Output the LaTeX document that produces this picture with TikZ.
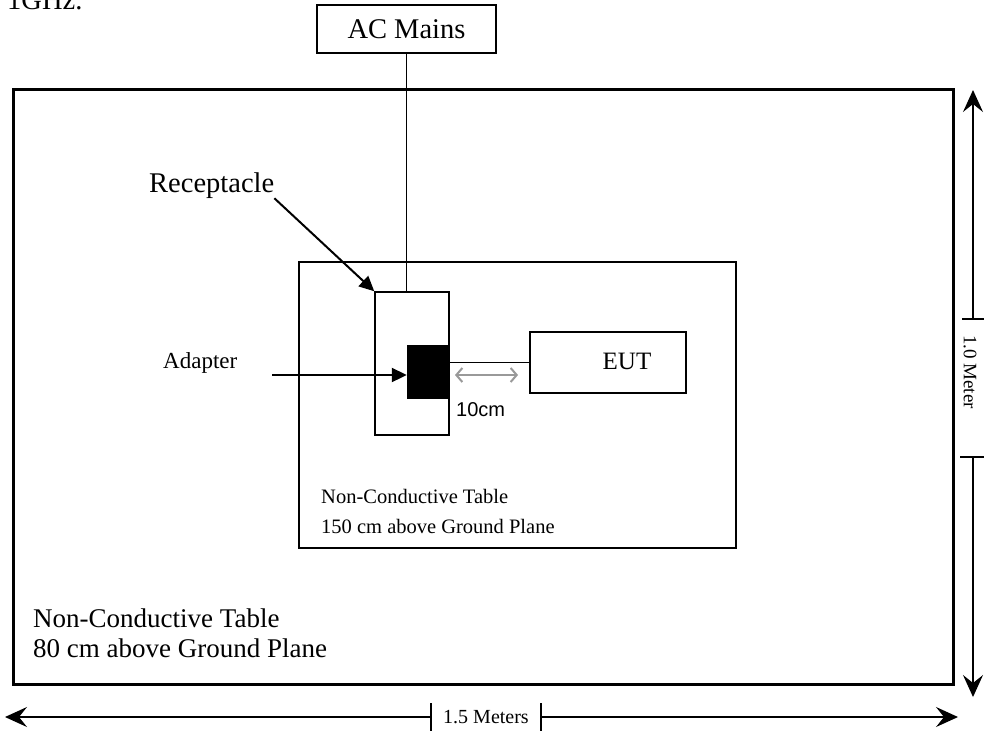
\documentclass[tikz,border=0pt]{standalone}
\usepackage{fontspec}
\setmainfont{Liberation Serif}
\newfontfamily\arialf{Liberation Sans}
\usetikzlibrary{arrows.meta}
\begin{document}
\begin{tikzpicture}[x=1pt,y=-1pt,
  box/.style={draw,line width=1.5pt,inner sep=0pt,anchor=center},
  lbl/.style={inner sep=0pt},
  big/.style={font=\fontsize{28.5}{32}\selectfont},
  mid/.style={font=\fontsize{23}{27}\selectfont},
  small/.style={font=\fontsize{20.5}{30}\selectfont},
  ptr/.style={line width=2pt,-{Triangle[length=15pt,width=14pt]}},
  dim/.style={line width=1.3pt,-{Stealth[length=22pt,width=20pt,inset=8pt]}},
  tick/.style={line width=1.5pt}]
\useasboundingbox (0,0) rectangle (984,737);
\clip (0,0) rectangle (984,737);
\fill[white] (0,0) rectangle (984,737);

% partial text at top
\node[lbl,big,anchor=base west] (ghz) at (7,9) {1GHz.};

% boxes
\node[box,minimum width=179pt,minimum height=48pt,big] (ac) at (406.5,29) {AC Mains};
\node[draw,line width=3pt,minimum width=940pt,minimum height=595pt,inner sep=0pt] (outer) at (483,386.5) {};
\node[box,minimum width=437pt,minimum height=286pt] (inner) at (517.5,405) {};
\node[box,minimum width=74pt,minimum height=143pt] (rec) at (412,363.5) {};
\node[fill=black,draw=black,inner sep=0pt,minimum width=42pt,minimum height=53pt] (blk) at (428,371.5) {};
\node[box,minimum width=156pt,minimum height=61pt] (eut) at (608,362.5) {};
\node[lbl,font=\fontsize{25}{28}\selectfont] (eutlbl) at (627,361) {EUT};

% wires
\draw[line width=1.8pt] (ac.south) -- (ac.south |- rec.north);
\draw[line width=1.5pt] (blk.east |- eut.west) -- (eut.west);

% 10 cm
\coordinate (ga) at (455,375);
\coordinate (gb) at (518,375);
\draw[gray!80,line width=2pt,{Straight Barb[length=6pt,width=14pt]}-{Straight Barb[length=6pt,width=14pt]}] (ga) -- (gb);
\node[lbl,font=\arialf\fontsize{20}{24}\selectfont,anchor=base west] (tencm) at (456,416) {10cm};

% labels with pointers
\node[lbl,big,anchor=base west] (reclbl) at (149,192) {Receptacle};
\draw[ptr] (reclbl.south east) -- (rec.north west);
\node[lbl,mid,anchor=base west] (adlbl) at (163,368) {Adapter};
\coordinate (adstart) at (272,375);
\draw[ptr] (adstart) -- (adstart -| blk.west);

% table texts
\node[lbl,small,anchor=base west] (t150a) at (321,503) {Non-Conductive Table};
\node[lbl,small,anchor=base west] (t150b) at (321,533) {150 cm above Ground Plane};
\node[lbl,font=\fontsize{27}{30}\selectfont,anchor=base west] (t80a) at (33,627) {Non-Conductive Table};
\node[lbl,font=\fontsize{27}{30}\selectfont,anchor=base west] (t80b) at (33,657) {80 cm above Ground Plane};

% vertical dimension
\coordinate (vt1) at (973,319);
\coordinate (vt2) at (973,457);
\coordinate (vtop) at (973,90);
\coordinate (vbot) at (973,697);
\draw[dim] (vt1) -- (vtop);
\draw[dim] (vt2) -- (vbot);
\draw[tick] (962,319) -- (984,319);
\draw[tick] (960,457) -- (984,457);
\node[lbl,font=\fontsize{19}{22}\selectfont,rotate=-90] (vlbl) at (970,372) {1.0 Meter};

% horizontal dimension
\coordinate (ht1) at (431,717);
\coordinate (ht2) at (541,717);
\coordinate (hleft) at (5,717);
\coordinate (hright) at (958,717);
\draw[dim] (ht1) -- (hleft);
\draw[dim] (ht2) -- (hright);
\draw[tick] (431,703) -- (431,731);
\draw[tick] (541,703) -- (541,731);
\node[lbl,font=\fontsize{20}{24}\selectfont] (hlbl) at (486,717) {1.5 Meters};
\end{tikzpicture}
\end{document}
